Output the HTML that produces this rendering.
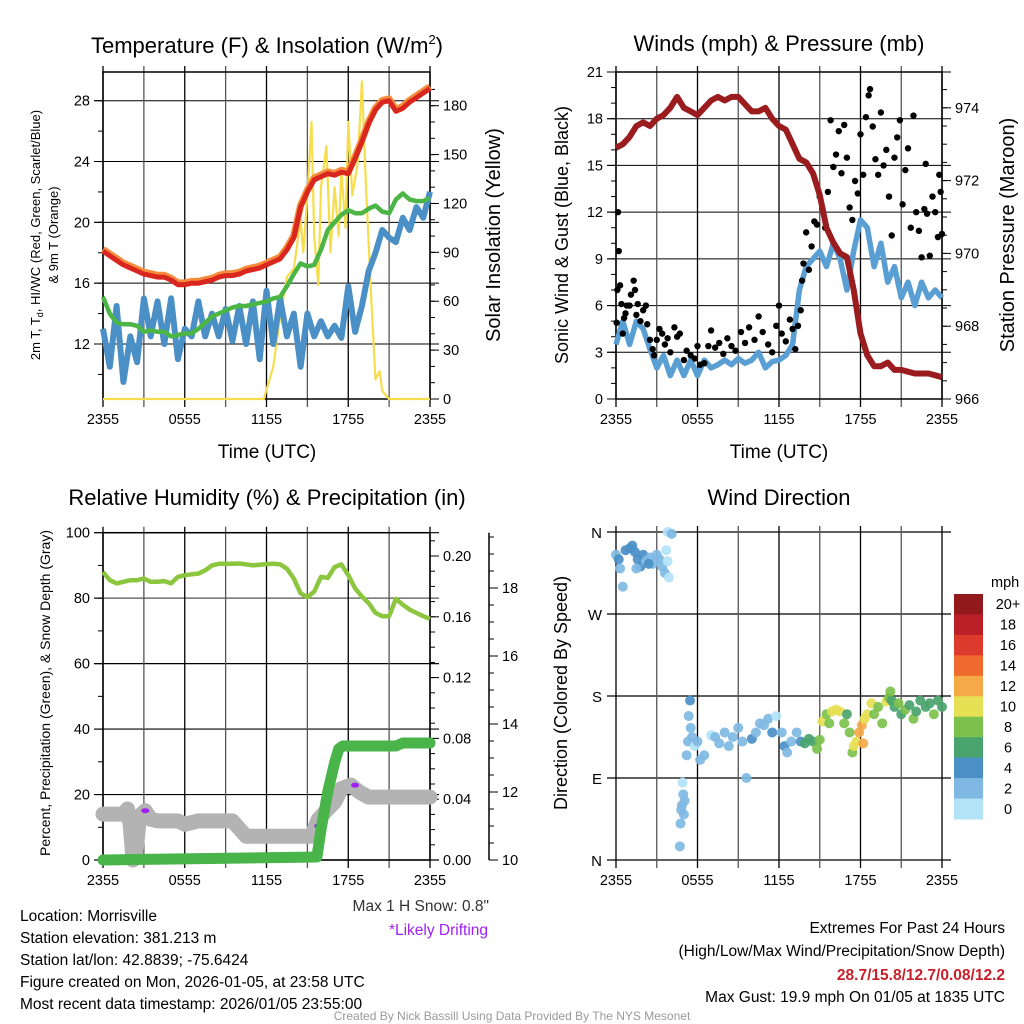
<!DOCTYPE html>
<html><head><meta charset="utf-8"><style>
html,body{margin:0;padding:0;background:#fff;}
svg{display:block;font-family:"Liberation Sans",Arial,sans-serif;}
</style></head><body>
<svg id="fig" width="1024" height="1024" viewBox="0 0 1024 1024" xmlns="http://www.w3.org/2000/svg">
<rect width="1024" height="1024" fill="#fff"/>
<g id="g-tl"></g>
<g id="g-tr"></g>
<g id="g-bl"></g>
<g id="g-br"></g>

<text x="267" y="53" font-size="22" text-anchor="middle">Temperature (F) &amp; Insolation (W/m<tspan font-size="13" dy="-9">2</tspan><tspan dy="9">)</tspan></text>
<text x="779" y="51" font-size="22" text-anchor="middle">Winds (mph) &amp; Pressure (mb)</text>
<text x="267" y="505" font-size="22" text-anchor="middle">Relative Humidity (%) &amp; Precipitation (in)</text>
<text x="779" y="505" font-size="22" text-anchor="middle">Wind Direction</text>

<text font-size="13" text-anchor="middle" transform="translate(40,235) rotate(-90)">2m T, T<tspan font-size="9" dy="3">d</tspan><tspan dy="-3">, HI/WC (Red, Green, Scarlet/Blue)</tspan></text>
<text font-size="13" text-anchor="middle" transform="translate(58,235) rotate(-90)">&amp; 9m T (Orange)</text>
<text font-size="20" text-anchor="middle" transform="translate(500,235) rotate(-90)">Solar Insolation (Yellow)</text>
<text font-size="18" text-anchor="middle" transform="translate(568,235) rotate(-90)">Sonic Wind &amp; Gust (Blue, Black)</text>
<text font-size="20" text-anchor="middle" transform="translate(1014,235) rotate(-90)">Station Pressure (Maroon)</text>
<text font-size="14" text-anchor="middle" transform="translate(50,693) rotate(-90)">Percent, Precipitation (Green), &amp; Snow Depth (Gray)</text>
<text font-size="18" text-anchor="middle" transform="translate(567,693) rotate(-90)">Direction (Colored By Speed)</text>
<text x="267" y="458" font-size="19" text-anchor="middle">Time (UTC)</text>
<text x="779" y="458" font-size="19" text-anchor="middle">Time (UTC)</text>

<g font-size="15.5">
<text x="489" y="911" text-anchor="end" fill="#333">Max 1 H Snow: 0.8"</text>
<text x="488" y="935" text-anchor="end" fill="#a020f0">*Likely Drifting</text>
<text x="20" y="921">Location: Morrisville</text>
<text x="20" y="943">Station elevation: 381.213 m</text>
<text x="20" y="965">Station lat/lon: 42.8839; -75.6424</text>
<text x="20" y="987">Figure created on Mon, 2026-01-05, at 23:58 UTC</text>
<text x="20" y="1009">Most recent data timestamp: 2026/01/05 23:55:00</text>
<text x="1005" y="933" text-anchor="end">Extremes For Past 24 Hours</text>
<text x="1005" y="956" text-anchor="end">(High/Low/Max Wind/Precipitation/Snow Depth)</text>
<text x="1005" y="980" text-anchor="end" fill="#c8202a" font-weight="bold">28.7/15.8/12.7/0.08/12.2</text>
<text x="1005" y="1002" text-anchor="end">Max Gust: 19.9 mph On 01/05 at 1835 UTC</text>
<text x="512" y="1020" text-anchor="middle" font-size="12" fill="#999">Created By Nick Bassill Using Data Provided By The NYS Mesonet</text>
</g>
</svg>
<script>
// ---------- DATA ----------
const hoursHalf = [0,0.5,1,1.5,2,2.5,3,3.5,4,4.5,5,5.5,6,6.5,7,7.5,8,8.5,9,9.5,10,10.5,11,11.5,12,12.5,13,13.5,14,14.5,15,15.5,16,16.5,17,17.5,18,18.5,19,19.5,20,20.5,21,21.5,22,22.5,23,23.5,24];
const xTickLabels = ["2355","0555","1155","1755","2355"];
const tempF = [18.1,17.8,17.5,17.2,17.0,16.8,16.6,16.5,16.4,16.4,16.2,15.9,15.9,16.0,16.0,16.1,16.2,16.4,16.5,16.5,16.6,16.8,16.9,17.0,17.2,17.4,17.6,18.2,19.0,21.0,22.0,22.8,23.0,23.2,23.1,23.3,23.2,24.2,25.3,26.5,27.4,27.9,28.0,27.3,27.5,27.9,28.2,28.5,28.8];
const dewF = [15.1,14.0,13.4,13.3,13.3,13.2,12.8,12.9,12.8,12.8,12.5,12.6,12.7,12.7,13.0,13.4,13.8,14.0,14.2,14.4,14.5,14.5,14.6,14.7,14.8,15.0,15.1,15.8,16.6,17.3,17.1,17.2,18.2,19.5,20.0,20.5,20.8,20.6,20.6,20.9,21.1,20.7,20.6,21.5,21.9,21.5,21.4,21.4,21.6];
const windChillF = [13,10.5,14.5,9.5,12.5,10.8,15,12.5,14.8,12,15,11,13,12.5,14.8,12.5,14,12.5,14.3,12.2,14.5,12,14.8,11,15.5,12,15,12.5,14,10.5,14,12.5,13.5,12.5,13.2,12.4,15.8,12.8,14.5,16.8,18,19.5,19,18.7,20.3,19.5,21,20.3,22];
const solarHours = [0,11.8,12.5,13,13.5,14,14.5,14.7,15,15.3,15.5,15.8,16,16.4,16.7,17,17.3,17.5,17.8,18,18.3,18.7,19,19.3,19.7,20,20.3,20.5,21,24];
const solarWm2 = [0,0,20,50,75,80,110,90,125,170,100,70,130,155,90,130,100,140,105,170,125,145,195,130,60,12,17,5,0,0];
const tempTicks = [12,16,20,24,28];
const solarTicks = [0,30,60,90,120,150,180];

const sonicWind = [3.5,5,3.5,5,4.5,3.2,2,2.8,1.5,2.5,1.5,2.5,1.5,2.5,2,2.2,2.5,2.2,2.6,2.3,2.5,3,2,2.4,2.5,2.8,3.5,7,8.5,9,9.5,8.5,10,9,7,9.5,11.5,11,8.5,10,7.5,8.5,6.5,7.5,6,7.5,6.5,7,6.5];
const gustHours = [0.05,0.1,0.15,0.2,0.3,0.4,0.5,0.6,0.7,0.8,1,1.1,1.3,1.4,1.5,1.6,1.8,2,2.2,2.3,2.5,2.7,2.8,3,3.2,3.4,3.6,3.8,4,4.3,4.5,4.7,5,5.2,5.5,5.8,6,6.2,6.5,6.8,7,7.3,7.6,7.9,8.2,8.5,8.8,9.2,9.5,9.8,10.2,10.5,10.8,11.2,11.5,11.8,12,12.2,12.5,12.8,13,13.2,13.4,13.6,13.7,13.8,14,14.2,14.4,14.6,14.8,15,15.2,15.4,15.6,15.8,16,16.2,16.4,16.6,16.8,17,17.2,17.4,17.6,17.8,18,18.2,18.4,18.6,18.7,18.9,19.1,19.3,19.5,19.7,19.9,20.1,20.3,20.5,20.7,20.9,21.1,21.3,21.5,21.7,21.9,22.1,22.3,22.5,22.7,22.9,23.1,23.3,23.5,23.7,23.9,24,23.8,22.8];
const gustMph = [4.9,7,12,9.5,7.3,6.1,4.2,5.2,5.5,6,6,6.7,7.6,7,5.4,6.1,5,5.7,6,4.8,3.8,3.2,2.8,3.8,4.5,4.2,3.5,3.9,3,4.6,4,4.2,2.5,3.1,2.8,2.6,3.4,2.2,2.3,3.4,4.4,3.3,3.6,2.9,3.9,3.4,3.1,4.3,3.6,4.6,3.8,5.3,4.3,3.5,3,4.7,6,4.2,3.7,5.1,4.5,3.2,4.7,5.7,7.6,8.7,10.7,8.3,9.8,11.4,11.2,13,12.2,11,13.3,17.9,14.9,15.7,17.2,14.5,17.6,15.5,12.3,11.5,14,13.2,17,14.4,18.1,19.5,19.9,17.5,15.4,14.4,18.4,15,16,13,10.5,15.5,16.8,17.9,12.5,14.7,16.1,11,18.2,12,10.8,9.1,12.2,11.9,9.2,13,12,10.4,13.3,10.6,14.4,15.1];
const pressureMb = [972.9,973.0,973.2,973.5,973.6,973.5,973.7,973.8,974.0,974.3,974.0,973.9,973.8,974.0,974.2,974.3,974.2,974.3,974.3,974.1,973.9,973.9,974.0,973.7,973.5,973.4,973.0,972.6,972.5,972.2,971.6,970.7,970.3,970.0,969.9,969.0,967.8,967.2,966.9,966.9,967.0,966.8,966.8,966.75,966.7,966.7,966.7,966.65,966.6];
const windTicks = [0,3,6,9,12,15,18,21];
const pressTicks = [966,968,970,972,974];

const rhPct = [88,85.5,84.5,85,85.5,85.5,86,85,85,85.2,84.5,86.5,87,87.3,87.5,88.5,90,90.5,90.5,90.5,90.6,90.3,90,90.2,90.4,90.5,90.3,89,86,81.5,80.3,82,86.5,86.2,89.5,90.3,87,83,80.5,78.5,75.5,74.5,74.5,79.8,78,76.5,75.5,74.5,73.7];
const precipHours = [0,15.7,16,16.5,17,17.3,17.6,21.5,22,24];
const precipIn = [0,0.002,0.02,0.045,0.064,0.073,0.075,0.075,0.077,0.077];
const snowHours = [0,1.5,1.8,2.0,2.2,2.4,2.7,3.1,3.5,4,5.5,6,7,9.5,10.5,15.3,15.8,16.5,17,17.5,18.2,18.8,19.5,24];
const snowIn = [11.35,11.35,11.5,11.0,10.0,10.2,11.3,11.45,11.2,11.15,11.15,11.05,11.15,11.15,10.7,10.7,11.2,11.5,11.7,12.1,12.2,12.0,11.85,11.85];
const driftHours = [3.1,15.8,18.5];
const driftIn = [11.45,11.0,12.2];
const pctTicks = [0,20,40,60,80,100];
const precipTicks = ["0.00","0.04","0.08","0.12","0.16","0.20"];
const snowTicks = [10,12,14,16,18];

const dirHours = [0,0.2,0.3,0.5,0.7,1,1.2,1.4,1.6,1.8,2,2.2,2.5,2.7,3,3.2,3.4,3.6,3.7,3.8,3.9,3.8,4.1,1.5,2.4,4.7,4.75,4.85,4.9,4.95,5.0,5.05,4.8,5.2,5.3,5.35,5.45,5.5,5.6,5.8,6,6.2,6.5,7,7.3,7.6,8,8.3,8.6,9,9.3,9.6,10,10.3,10.6,10.9,11.2,11.5,11.8,12.2,12.4,12.6,12.9,13.3,13.6,13.9,14.2,14.5,14.8,15,15.2,15.5,15.7,15.9,16.2,16.5,16.8,17,17.2,17.4,17.5,17.7,17.9,18.1,18.3,18.5,18.8,19,19.3,19.6,19.9,20.1,20.3,20.5,20.8,21,21.3,21.6,21.9,22.1,22.4,22.8,23.1,23.4,23.7,24,20.2,18.2];
const dirDeg = [335,330,320,300,340,342,345,338,330,322,335,328,332,325,335,330,322,315,340,328,310,360,358,320,325,15,40,60,85,72,50,65,55,115,130,158,175,145,135,125,130,110,115,137,135,128,140,125,135,145,130,90,133,140,150,148,155,140,158,140,125,118,130,140,130,128,133,130,122,132,152,160,150,163,165,163,150,160,140,118,125,130,140,148,155,160,172,160,168,150,174,178,175,168,172,160,165,170,155,163,175,168,172,160,175,168,185,128];
const dirSpeed = [3,4,3,2,4,4,5,4,4,4,4,3,3,3,2,3,2,3,1,1,1,1,2,3,4,2,2,3,1,3,3,2,2,3,2,3,4,3,2,1,3,2,3,1,2,3,3,3,2,3,3,3,4,3,3,2,2,4,1,3,4,3,3,3,5,7,7,7,8,8,10,9,8,10,11,10,8,7,8,8,10,11,12,13,11,10,10,8,9,8,10,8,6,6,8,7,8,6,8,6,6,7,6,8,7,6,9,12];
const speedLabels = ["20+","18","16","14","12","10","8","6","4","2","0"];
const speedColors = ["#931a1c","#bb1f27","#dc3a2c","#ee6a2e","#f5a947","#e6e055","#7cc14c","#4aa46e","#4a8fc6","#7fb9e3","#b3e3f7"];
const dirLabels = ["N","W","S","E","N"];
const dirTicks = [360,270,180,90,0];

// ---------- HELPERS ----------
const NS = "http://www.w3.org/2000/svg";
function mk(parent, tag, attrs){
  const e = document.createElementNS(NS, tag);
  for (const k in attrs) e.setAttribute(k, attrs[k]);
  parent.appendChild(e);
  return e;
}
function lin(d0,d1,r0,r1){ return v => r0 + (v-d0)*(r1-r0)/(d1-d0); }
function pathD(xs, ys, fx, fy){
  return xs.map((h,i)=>(i?"L":"M")+fx(h).toFixed(1)+","+fy(ys[i]).toFixed(1)).join(" ");
}
function timeGrid(g, sx, yTop, yBot, tickBot){
  for (let h=0; h<=24; h+=3){
    const ln = mk(g,"line",{x1:sx(h),x2:sx(h),y1:yTop-6,y2:tickBot,stroke:(h%6? "#555":"#000"),"stroke-width":1.3});
    
    
  }
  xTickLabels.forEach((lab,i)=>{
    const t = mk(g,"text",{x:sx(i*6),y:tickBot+17,"font-size":14.5,"text-anchor":"middle"});
    t.textContent = lab;
    
    
  });
}
function yAxis(g, x, ticks, sy, side, labels, minor){
  ticks.forEach((v,i)=>{
    const y = sy(v);
    mk(g,"line",{x1:x,x2:x+side*9,y1:y,y2:y,stroke:"#000","stroke-width":1});
    const t = mk(g,"text",{x:x+side*13,y:y+5,"font-size":14.5,"text-anchor":side<0?"end":"start"});
    t.textContent = labels ? labels[i] : v;
    
    
  });
  (minor||[]).forEach(v=>{ const y=sy(v); mk(g,"line",{x1:x,x2:x+side*5,y1:y,y2:y,stroke:"#000","stroke-width":1}); });
}
function range(a,b,s){ const r=[]; for(let v=a; v<=b+1e-9; v+=s) r.push(+v.toFixed(4)); return r; }

// ---------- TOP LEFT ----------
(function(){
  const g = document.getElementById("g-tl");
  const X0=103, X1=430, YT=72, YB=399;
  const sx = lin(0,24,X0,X1);
  const sy = lin(28,12,100.7,344);
  const sy2 = lin(0,180,399,105.7);
  tempTicks.forEach(v=>mk(g,"line",{x1:X0-9,x2:X1+9,y1:sy(v),y2:sy(v),stroke:"#000","stroke-width":1}));
  timeGrid(g, sx, YT, YB, YB+8);
  mk(g,"rect",{x:X0,y:YT,width:X1-X0,height:YB-YT,fill:"none",stroke:"#000","stroke-width":1.5});
  yAxis(g, X0, tempTicks, sy, -1, null, range(10,28,2));
  yAxis(g, X1, solarTicks, sy2, 1, null, range(10,190,10));
  const sol = mk(g,"path",{d:pathD(solarHours,solarWm2,sx,sy2),fill:"none",stroke:"#f6dd4c","stroke-width":2.2,"stroke-linejoin":"round"});
  
  
  const wc = mk(g,"path",{d:pathD(hoursHalf,windChillF,sx,sy),fill:"none",stroke:"#4a8fc6","stroke-width":6,"stroke-linejoin":"round"});
  
  
  const dw = mk(g,"path",{d:pathD(hoursHalf,dewF,sx,sy),fill:"none",stroke:"#4bb545","stroke-width":4.5,"stroke-linejoin":"round"});
  
  
  const t9 = mk(g,"path",{d:pathD(hoursHalf,tempF.map(v=>v+0.12),sx,sy),fill:"none",stroke:"#f58c3c","stroke-width":7,"stroke-linejoin":"round"});
  
  
  const t2 = mk(g,"path",{d:pathD(hoursHalf,tempF,sx,sy),fill:"none",stroke:"#d9261f","stroke-width":5,"stroke-linejoin":"round"});
  
  
})();

// ---------- TOP RIGHT ----------
(function(){
  const g = document.getElementById("g-tr");
  const X0=616, X1=942, YT=72, YB=399;
  const sx = lin(0,24,X0,X1);
  const sy = lin(0,21,YB,YT);
  const sp = lin(966,974,399,107.8);
  windTicks.forEach(v=>mk(g,"line",{x1:X0-9,x2:X1+9,y1:sy(v),y2:sy(v),stroke:"#000","stroke-width":1}));
  timeGrid(g, sx, YT, YB, YB+8);
  mk(g,"rect",{x:X0,y:YT,width:X1-X0,height:YB-YT,fill:"none",stroke:"#000","stroke-width":1.5});
  yAxis(g, X0, windTicks, sy, -1, null, range(1,20,1));
  yAxis(g, X1, pressTicks, sp, 1, null, range(966.5,974.5,0.5));
  const sw = mk(g,"path",{d:pathD(hoursHalf,sonicWind,sx,sy),fill:"none",stroke:"#5a9fd4","stroke-width":5.5,"stroke-linejoin":"round"});
  
  
  gustHours.forEach((h,i)=>{
    const c = mk(g,"circle",{cx:sx(h),cy:sy(gustMph[i]),r:3.2,fill:"#000"});
    
    
  });
  const pr = mk(g,"path",{d:pathD(hoursHalf,pressureMb,sx,sp),fill:"none",stroke:"#9b1c1f","stroke-width":6,"stroke-linejoin":"round"});
  
  
})();

// ---------- BOTTOM LEFT ----------
(function(){
  const g = document.getElementById("g-bl");
  const X0=103, X1=430, YT=532.7, YB=860;
  const sx = lin(0,24,X0,X1);
  const sy = lin(0,100,YB,YT);
  const spc = lin(0,0.2,860,556);
  const ssn = lin(10,18,860,588);
  pctTicks.forEach(v=>mk(g,"line",{x1:X0-9,x2:X1+9,y1:sy(v),y2:sy(v),stroke:(v==80?"#555":"#000"),"stroke-width":1.2}));
  timeGrid(g, sx, YT, YB, YB+8);
  mk(g,"rect",{x:X0,y:YT,width:X1-X0,height:YB-YT,fill:"none",stroke:"#000","stroke-width":1.5});
  yAxis(g, X0, pctTicks, sy, -1, null, range(10,90,10));
  yAxis(g, X1, precipTicks.map(Number), spc, 1, precipTicks, range(0.01,0.21,0.01));
  mk(g,"line",{x1:489,x2:489,y1:YT,y2:YB,stroke:"#000","stroke-width":1.5});
  yAxis(g, 489, snowTicks, ssn, 1, null, range(10,19.5,0.5));
  const sn = mk(g,"path",{d:pathD(snowHours,snowIn,sx,ssn),fill:"none",stroke:"#b3b3b3","stroke-width":15,"stroke-linejoin":"round","stroke-linecap":"round"});
  
  
  driftHours.forEach((h,i)=>{
    const d = mk(g,"ellipse",{cx:sx(h),cy:ssn(driftIn[i]),rx:4,ry:2.5,fill:"#a020f0"});
    
    
  });
  const pc = mk(g,"path",{d:pathD(precipHours,precipIn,sx,spc),fill:"none",stroke:"#48b449","stroke-width":11,"stroke-linejoin":"round","stroke-linecap":"round"});
  
  
  const rh = mk(g,"path",{d:pathD(hoursHalf,rhPct,sx,sy),fill:"none",stroke:"#8cc63f","stroke-width":4.5,"stroke-linejoin":"round"});
  
  
})();

// ---------- BOTTOM RIGHT ----------
(function(){
  const g = document.getElementById("g-br");
  const X0=616, X1=942, YT=532, YB=860;
  const sx = lin(0,24,X0,X1);
  const sy = lin(0,360,YB,YT);
  dirTicks.forEach((v,i)=>{
    mk(g,"line",{x1:X0-9,x2:X1+9,y1:sy(v),y2:sy(v),stroke:"#000","stroke-width":1.2});
    const t = mk(g,"text",{x:X0-14,y:sy(v)+6,"font-size":15,"text-anchor":"end"});
    t.textContent = dirLabels[i];
    
    
  });
  timeGrid(g, sx, YT, YB+6, YB+8);
  dirHours.forEach((h,i)=>{
    const bin = Math.min(10, Math.floor(dirSpeed[i]/2));
    const c = mk(g,"circle",{cx:sx(h),cy:sy(dirDeg[i]),r:5,fill:speedColors[10-bin],"fill-opacity":0.92});
    
    
  });
  const lt = mk(g,"text",{x:991,y:587,"font-size":14.5});
  lt.textContent = "mph";
  
  
  const bh = (819-594)/11;
  speedColors.forEach((col,i)=>{
    const r = mk(g,"rect",{x:954,y:594+i*bh,width:29,height:bh+0.5,fill:col});
    
    
    const t = mk(g,"text",{x:1008,y:594+i*bh+bh/2+5,"font-size":14.5,"text-anchor":"middle"});
    t.textContent = speedLabels[i];
    
    
  });
})();
</script>
</body></html>
